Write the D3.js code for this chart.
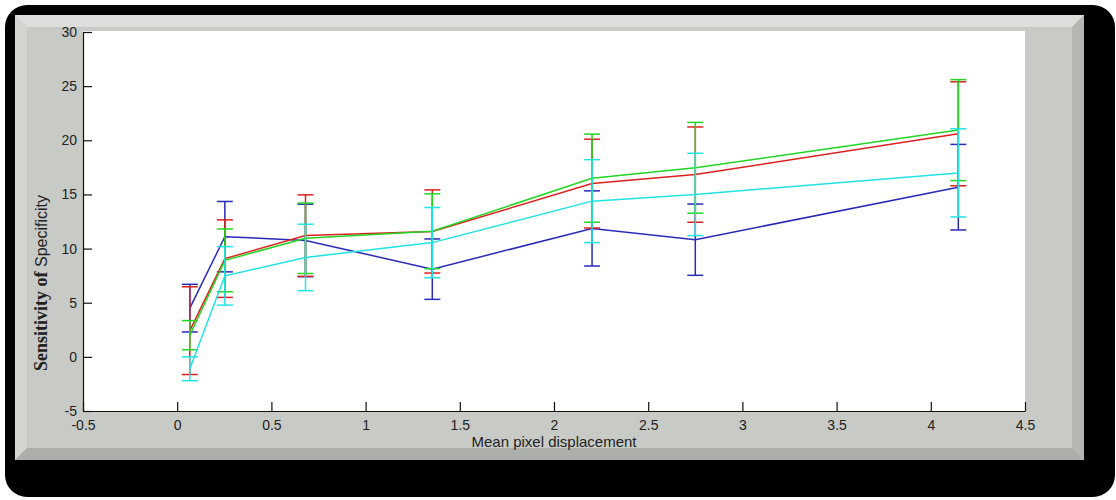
<!DOCTYPE html>
<html>
<head>
<meta charset="utf-8">
<script src="https://cdn.jsdelivr.net/npm/d3@7"></script>
<style>
html,body{margin:0;padding:0;background:#fff;}
svg{display:block;}
</style>
</head>
<body>
<svg id="chart" width="1116" height="500"></svg>
<script>
// ---- data ----
const xValues = [0.067, 0.253, 0.681, 1.354, 2.202, 2.75, 4.146];
const blueMean  = [4.5, 11.1, 10.75, 8.1, 11.86, 10.82, 15.67];
const blueErr   = [2.2, 3.25, 3.35, 2.79, 3.47, 3.29, 3.95];
const redMean   = [2.42, 9.07, 11.2, 11.58, 16.0, 16.83, 20.6];
const redErr    = [4.05, 3.58, 3.76, 3.84, 4.1, 4.4, 4.8];
const greenMean = [2.0, 8.91, 10.95, 11.6, 16.5, 17.46, 20.94];
const greenErr  = [1.35, 2.9, 3.25, 3.45, 4.07, 4.19, 4.66];
const cyanMean  = [-1.1, 7.48, 9.18, 10.55, 14.38, 15.0, 16.99];
const cyanErr   = [1.1, 2.7, 3.07, 3.24, 3.83, 3.8, 4.07];
const xTicks = [-0.5, 0, 0.5, 1, 1.5, 2, 2.5, 3, 3.5, 4, 4.5];
const yTicks = [-5, 0, 5, 10, 15, 20, 25, 30];
const xLabel = "Mean pixel displacement";
const yLabelBold = "Sensitivity of";
const yLabelPlain = "Specificity";

const series = [
  {name: "blue",  mean: blueMean,  err: blueErr,  color: "#2a2ab8"},
  {name: "red",   mean: redMean,   err: redErr,   color: "#dc2020"},
  {name: "green", mean: greenMean, err: greenErr, color: "#22d622"},
  {name: "cyan",  mean: cyanMean,  err: cyanErr,  color: "#22e2e2"}
];

const svg = d3.select("#chart");

// ---- frame ----
svg.append("rect").attr("x", 5).attr("y", 5).attr("width", 1110).attr("height", 492)
  .attr("rx", 22).attr("ry", 22).attr("fill", "#000");

const pL = 15, pT = 15, pR = 1084, pB = 460, bw = 12;
svg.append("rect").attr("x", pL).attr("y", pT).attr("width", pR - pL).attr("height", pB - pT)
  .attr("fill", "#c8cac6");
const bevel = [
  {pts: [[pL,pT],[pR,pT],[pR-bw,pT+bw],[pL+bw,pT+bw]], c: "#dcdedb"},
  {pts: [[pL,pT],[pL+bw,pT+bw],[pL+bw,pB-bw],[pL,pB]], c: "#d3d5d1"},
  {pts: [[pR,pT],[pR,pB],[pR-bw,pB-bw],[pR-bw,pT+bw]], c: "#b4b6b2"},
  {pts: [[pL,pB],[pL+bw,pB-bw],[pR-bw,pB-bw],[pR,pB]], c: "#acaeaa"}
];
svg.selectAll("polygon.bevel").data(bevel).enter().append("polygon")
  .attr("class", "bevel")
  .attr("points", d => d.pts.map(p => p.join(",")).join(" "))
  .attr("fill", d => d.c);

// ---- scales ----
const x = d3.scaleLinear().domain([-0.5, 4.5]).range([83, 1025]);
const y = d3.scaleLinear().domain([-5, 30]).range([411, 32]);

svg.append("rect").attr("x", x(-0.5)).attr("y", y(30) - 1)
  .attr("width", x(4.5) - x(-0.5)).attr("height", y(-5) - y(30) + 1)
  .attr("fill", "#fff");

// ---- axes ----
const xAxis = d3.axisBottom(x).tickValues(xTicks).tickSizeInner(-9).tickSizeOuter(0).tickPadding(9);
const yAxis = d3.axisLeft(y).tickValues(yTicks).tickSizeInner(-9).tickSizeOuter(0).tickPadding(6);

const gx = svg.append("g").attr("transform", `translate(0,${y(-5)})`).call(xAxis);
const gy = svg.append("g").attr("transform", `translate(${x(-0.5)},0)`).call(yAxis);
[gx, gy].forEach(g => {
  g.select(".domain").attr("stroke", "#111").attr("stroke-width", 1.2);
  g.selectAll(".tick line").attr("stroke", "#111").attr("stroke-width", 1.2);
  g.selectAll(".tick text").attr("fill", "#222")
    .style("font-family", "'Liberation Sans', Arial, sans-serif").style("font-size", "14px")
    .text(d => d < 0 ? "-" + Math.abs(d) : String(d));
});

// axis labels
svg.append("text").attr("x", (x(-0.5) + x(4.5)) / 2).attr("y", 447)
  .attr("text-anchor", "middle").attr("fill", "#222")
  .style("font-family", "'Liberation Sans', Arial, sans-serif").style("font-size", "15px")
  .text(xLabel);

const yl = svg.append("text").attr("transform", "translate(47,371) rotate(-90)")
  .attr("text-anchor", "start").attr("fill", "#222");
yl.append("tspan").style("font-family", "'Liberation Serif', 'Times New Roman', serif")
  .style("font-weight", "bold").style("font-size", "18px").text(yLabelBold + " ");
yl.append("tspan").style("font-family", "'Liberation Sans', Arial, sans-serif")
  .style("font-size", "16px").text(yLabelPlain);

// ---- series ----
const line = d3.line().x(d => x(d[0])).y(d => y(d[1]));
const capHalf = 8;
const plot = svg.append("g");
series.forEach(s => {
  const g = plot.append("g").attr("stroke", s.color).attr("stroke-width", 1.5).attr("fill", "none");
  const pts = xValues.map((xv, i) => [xv, s.mean[i], s.err[i]]);
  g.append("path").datum(pts).attr("d", line);
  const eb = g.selectAll("g.eb").data(pts).enter().append("g").attr("class", "eb");
  eb.append("line").attr("x1", d => x(d[0])).attr("x2", d => x(d[0]))
    .attr("y1", d => y(d[1] - d[2])).attr("y2", d => y(d[1] + d[2]));
  eb.append("line").attr("x1", d => x(d[0]) - capHalf).attr("x2", d => x(d[0]) + capHalf)
    .attr("y1", d => y(d[1] + d[2])).attr("y2", d => y(d[1] + d[2]));
  eb.append("line").attr("x1", d => x(d[0]) - capHalf).attr("x2", d => x(d[0]) + capHalf)
    .attr("y1", d => y(d[1] - d[2])).attr("y2", d => y(d[1] - d[2]));
});
</script>
</body>
</html>
